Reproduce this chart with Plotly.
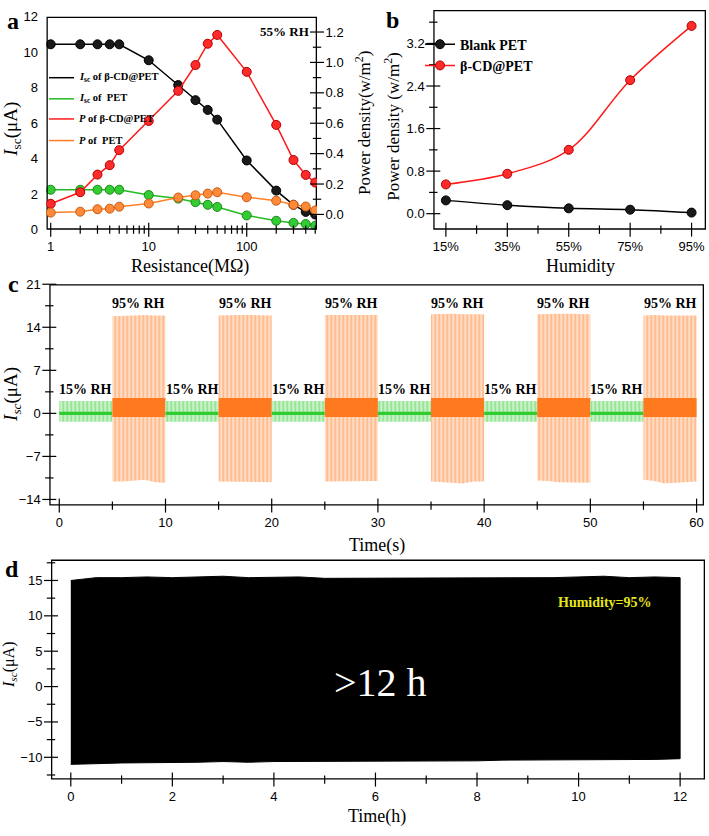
import plotly.graph_objects as go

# ---------------- Panel a data ----------------
resistance = [1, 2, 3, 4, 5, 10, 20, 30, 40, 50, 100, 200, 300, 400, 500]
isc_bcd = [10.45, 10.45, 10.45, 10.45, 10.45, 9.55, 8.15, 7.3, 6.75, 6.2, 3.9, 2.2, 1.4, 1.0, 0.85]
isc_pet = [2.25, 2.25, 2.25, 2.25, 2.25, 1.95, 1.75, 1.55, 1.4, 1.28, 0.8, 0.5, 0.38, 0.32, 0.22]
p_bcd = [0.07, 0.146, 0.262, 0.324, 0.423, 0.615, 0.813, 0.983, 1.123, 1.181, 0.938, 0.589, 0.358, 0.26, 0.21]
p_pet = [0.012, 0.018, 0.034, 0.038, 0.051, 0.072, 0.111, 0.126, 0.137, 0.146, 0.113, 0.09, 0.064, 0.052, 0.026]
a_legend_labels = ["<i>I</i><sub>sc</sub> of β-CD@PET", "<i>I</i><sub>sc</sub> of  PET",
                   "<i>P</i> of β-CD@PET", "<i>P</i> of  PET"]
a_x_major = [1, 10, 100]
a_x_minor = [2, 3, 4, 5, 6, 7, 8, 9, 20, 30, 40, 50, 60, 70, 80, 90, 200, 300, 400, 500]
a_y_major = [0, 2, 4, 6, 8, 10, 12]
a_y_minor = [1, 3, 5, 7, 9, 11]
a_y2_major = [0, 0.2, 0.4, 0.6, 0.8, 1.0, 1.2]
a_y2_minor = [0.1, 0.3, 0.5, 0.7, 0.9, 1.1]

# ---------------- Panel b data ----------------
humidity = [15, 35, 55, 75, 95]
humidity_labels = ["15%", "35%", "55%", "75%", "95%"]
p_blank_h = [0.25, 0.16, 0.10, 0.075, 0.02]
p_bcd_h = [0.55, 0.75, 1.2, 2.51, 3.53]
b_x_minor = [25, 45, 65, 85]
b_y_major = [0, 0.8, 1.6, 2.4, 3.2]
b_y_minor = [0.4, 1.2, 2.0, 2.8, 3.6]

# ---------------- Panel c data ----------------
c_seg_start = [0, 5, 10, 15, 20, 25, 30, 35, 40, 45, 50, 55]
c_seg_label = ["15% RH", "95% RH"] * 6
c_offsets = [0, 1, 2, 3, 4, 5]
c_top = [
    [2.0, 2.05, 2.0, 2.0, 2.05, 2.0],
    [15.8, 15.9, 15.9, 16.0, 15.9, 15.9],
    [2.0, 2.0, 2.05, 2.05, 2.0, 2.0],
    [15.9, 16.0, 16.0, 16.0, 16.0, 15.9],
    [2.0, 2.05, 2.05, 2.0, 2.0, 2.0],
    [16.0, 16.0, 16.1, 16.1, 16.0, 16.0],
    [2.0, 2.0, 2.0, 2.05, 2.0, 2.0],
    [16.1, 16.2, 16.2, 16.1, 16.1, 16.1],
    [2.0, 2.0, 2.0, 2.0, 2.05, 2.0],
    [16.1, 16.2, 16.2, 16.2, 16.2, 16.1],
    [2.0, 2.05, 2.0, 2.0, 2.0, 2.0],
    [15.9, 16.0, 15.9, 15.9, 15.9, 15.9],
]
c_bottom = [
    [-1.35, -1.35, -1.3, -1.35, -1.35, -1.35],
    [-11.1, -11.1, -11.0, -10.8, -11.2, -11.3],
    [-1.35, -1.3, -1.35, -1.35, -1.3, -1.35],
    [-11.1, -11.1, -11.2, -11.1, -11.2, -11.2],
    [-1.35, -1.35, -1.35, -1.3, -1.35, -1.35],
    [-11.1, -11.0, -11.0, -11.1, -11.0, -11.0],
    [-1.35, -1.35, -1.3, -1.35, -1.35, -1.35],
    [-11.1, -11.1, -11.3, -11.4, -11.1, -11.1],
    [-1.35, -1.3, -1.35, -1.35, -1.35, -1.35],
    [-10.9, -11.0, -11.2, -11.3, -11.3, -11.3],
    [-1.35, -1.35, -1.35, -1.3, -1.35, -1.35],
    [-10.8, -11.0, -11.4, -11.3, -11.2, -11.1],
]
c_core_high = [0.25, 2.5] * 6
c_core_low = [-0.25, -0.6] * 6
c_x_major = [0, 10, 20, 30, 40, 50, 60]
c_x_minor = [5, 15, 25, 35, 45, 55]
c_y_major = [-14, -7, 0, 7, 14, 21]
c_y_minor = [-10.5, -3.5, 3.5, 10.5, 17.5]

# ---------------- Panel d data ----------------
d_time = [0, 0.5, 1, 1.5, 2, 2.5, 3, 3.5, 4, 4.5, 5, 5.5, 6, 6.5, 7, 7.5, 8, 8.5, 9, 9.5,
          10, 10.5, 11, 11.5, 12]
d_top = [15.0, 15.4, 15.4, 15.5, 15.4, 15.5, 15.6, 15.4, 15.4, 15.5, 15.3, 15.3, 15.4,
         15.3, 15.3, 15.4, 15.3, 15.3, 15.4, 15.4, 15.5, 15.6, 15.4, 15.5, 15.4]
d_bottom = [-11.0, -10.9, -10.8, -10.8, -10.7, -10.7, -10.6, -10.7, -10.6, -10.6, -10.6,
            -10.5, -10.6, -10.5, -10.5, -10.5, -10.5, -10.4, -10.4, -10.4, -10.3, -10.3,
            -10.3, -10.3, -10.2]
d_x_major = [0, 2, 4, 6, 8, 10, 12]
d_x_minor = [1, 3, 5, 7, 9, 11]
d_y_major = [-10, -5, 0, 5, 10, 15]
d_y_minor = [-12.5, -7.5, -2.5, 2.5, 7.5, 12.5, 17.5]

# axis ranges
A_XR_LOG = [-0.043, 2.717]
A_YR = [0, 12]
A_Y2R = [-0.1, 1.3]
B_XR = [10.9, 99.7]
B_YR = [-0.3, 3.83]
C_XR = [-0.94, 60.7]
C_YR = [-15, 21]
D_XR = [-0.39, 12.49]
D_YR = [-13.15, 17.95]

W, H = 709, 836
SERIF = "Liberation Serif"
SANS = "Liberation Sans"
BLACK, GREEN, RED, ORANGE = "#000000", "#22bb22", "#ff1a1a", "#ff7f27"
C_ORANGE, C_GREEN = "#ff7a1e", "#2ecc2e"

FRAME_A = (46.5, 317, 10, 226.7)
FRAME_B = (433.3, 706, 3, 226.7)
FRAME_C = (49.3, 704, 282.3, 507.7)
FRAME_D = (51, 705, 562.7, 786.7)


def px(x):
    return x / W


def py(y):
    return 1 - y / H


fig = go.Figure()


def marker(c, edge):
    return dict(size=9, color=c, line=dict(color=edge, width=1))


# ---- panel a ----
fig.add_trace(go.Scatter(x=resistance, y=isc_bcd, mode="lines+markers", line=dict(color=BLACK, width=1.5),
                         marker=marker("#1a1a1a", "#000000"), xaxis="x", yaxis="y", showlegend=False))
fig.add_trace(go.Scatter(x=resistance, y=isc_pet, mode="lines+markers", line=dict(color=GREEN, width=1.5),
                         marker=marker("#33cc33", "#1a8a1a"), xaxis="x", yaxis="y", showlegend=False))
fig.add_trace(go.Scatter(x=resistance, y=p_bcd, mode="lines+markers", line=dict(color=RED, width=1.5),
                         marker=marker("#ff2a2a", "#b00000"), xaxis="x", yaxis="y2", showlegend=False))
fig.add_trace(go.Scatter(x=resistance, y=p_pet, mode="lines+markers", line=dict(color=ORANGE, width=1.5),
                         marker=marker("#ff8a3a", "#c85a10"), xaxis="x", yaxis="y2", showlegend=False))

# ---- panel b ----
fig.add_trace(go.Scatter(x=humidity, y=p_blank_h, mode="lines+markers", name="Blank PET",
                         line=dict(color=BLACK, width=1.5, shape="spline"),
                         marker=marker("#1a1a1a", "#000000"), xaxis="x2", yaxis="y3", legend="legend2"))
fig.add_trace(go.Scatter(x=humidity, y=p_bcd_h, mode="lines+markers", name="β-CD@PET",
                         line=dict(color=RED, width=1.5, shape="spline", smoothing=1.0),
                         marker=marker("#ff2a2a", "#b00000"), xaxis="x2", yaxis="y3", legend="legend2"))

# ---- panel c ----
for i, t0 in enumerate(c_seg_start):
    xs = [t0 + o for o in c_offsets]
    col = C_GREEN if c_seg_label[i].startswith("15") else C_ORANGE
    fig.add_trace(go.Scatter(
        x=xs + xs[::-1], y=c_top[i] + c_bottom[i][::-1], mode="lines", fill="toself",
        line=dict(width=0, color=col), fillcolor="white",
        fillpattern=dict(shape="|", size=4, solidity=0.75, fgcolor=col, bgcolor="white"),
        xaxis="x3", yaxis="y4", showlegend=False, hoverinfo="skip"))
    fig.add_trace(go.Scatter(
        x=[xs[0], xs[-1], xs[-1], xs[0]], y=[c_core_high[i], c_core_high[i], c_core_low[i], c_core_low[i]],
        mode="lines", fill="toself", line=dict(width=0, color=col), fillcolor=col,
        xaxis="x3", yaxis="y4", showlegend=False, hoverinfo="skip"))

# ---- panel d ----
fig.add_trace(go.Scatter(x=d_time + d_time[::-1], y=d_top + d_bottom[::-1], mode="lines", fill="toself",
                         line=dict(width=1, color="black"), fillcolor="black",
                         xaxis="x4", yaxis="y5", showlegend=False, hoverinfo="skip"))


# ---- frames and tick marks drawn as traces on each subplot ----
def frame(xa, ya, xr, yr):
    fig.add_trace(go.Scatter(x=[xr[0], xr[1], xr[1], xr[0], xr[0]], y=[yr[0], yr[0], yr[1], yr[1], yr[0]],
                             mode="lines", line=dict(color="black", width=2.6), cliponaxis=False,
                             xaxis=xa, yaxis=ya, showlegend=False, hoverinfo="skip"))


def tickmarks(xa, ya, xs, ys, symbol, size):
    fig.add_trace(go.Scatter(x=xs, y=ys, mode="markers", cliponaxis=False,
                             marker=dict(symbol=symbol, size=size, color="black",
                                         line=dict(color="black", width=1.2)),
                             xaxis=xa, yaxis=ya, showlegend=False, hoverinfo="skip"))


def axis_ticks(xa, ya, xr, yr, xmaj, xmin, ymaj, ymin):
    tickmarks(xa, ya, xmaj, [yr[0]] * len(xmaj), "line-ns", 10)
    tickmarks(xa, ya, xmin, [yr[0]] * len(xmin), "line-ns", 6)
    tickmarks(xa, ya, [xr[0]] * len(ymaj), ymaj, "line-ew", 10)
    tickmarks(xa, ya, [xr[0]] * len(ymin), ymin, "line-ew", 6)


a_xr = [10 ** A_XR_LOG[0], 10 ** A_XR_LOG[1]]
frame("x", "y", a_xr, A_YR)
axis_ticks("x", "y", a_xr, A_YR, a_x_major, a_x_minor, a_y_major, a_y_minor)
tickmarks("x", "y2", [a_xr[1]] * len(a_y2_major), a_y2_major, "line-ew", 10)
tickmarks("x", "y2", [a_xr[1]] * len(a_y2_minor), a_y2_minor, "line-ew", 6)
frame("x2", "y3", B_XR, B_YR)
axis_ticks("x2", "y3", B_XR, B_YR, humidity, b_x_minor, b_y_major, b_y_minor)
frame("x3", "y4", C_XR, C_YR)
axis_ticks("x3", "y4", C_XR, C_YR, c_x_major, c_x_minor, c_y_major, c_y_minor)
frame("x4", "y5", D_XR, D_YR)
axis_ticks("x4", "y5", D_XR, D_YR, d_x_major, d_x_minor, d_y_major, d_y_minor)


def ax(**kw):
    base = dict(showline=False, ticks="outside", ticklen=5, tickwidth=1, tickcolor="rgba(0,0,0,0)",
                showgrid=False, zeroline=False, tickfont=dict(family=SANS, size=13, color="black"))
    base.update(kw)
    return base


fig.update_layout(
    xaxis=ax(type="log", domain=[px(FRAME_A[0]), px(FRAME_A[1])], range=A_XR_LOG, anchor="y",
             tickvals=a_x_major, ticktext=[str(v) for v in a_x_major]),
    yaxis=ax(domain=[py(FRAME_A[3]), py(FRAME_A[2])], range=A_YR, anchor="x", tickvals=a_y_major),
    yaxis2=ax(overlaying="y", side="right", anchor="x", range=A_Y2R, tickvals=a_y2_major, tickformat=".1f"),
    xaxis2=ax(domain=[px(FRAME_B[0]), px(FRAME_B[1])], range=B_XR, anchor="y3",
              tickvals=humidity, ticktext=humidity_labels),
    yaxis3=ax(domain=[py(FRAME_B[3]), py(FRAME_B[2])], range=B_YR, anchor="x2",
              tickvals=b_y_major, tickformat=".1f"),
    xaxis3=ax(domain=[px(FRAME_C[0]), px(FRAME_C[1])], range=C_XR, anchor="y4", tickvals=c_x_major),
    yaxis4=ax(domain=[py(FRAME_C[3]), py(FRAME_C[2])], range=C_YR, anchor="x3", tickvals=c_y_major),
    xaxis4=ax(domain=[px(FRAME_D[0]), px(FRAME_D[1])], range=D_XR, anchor="y5", tickvals=d_x_major),
    yaxis5=ax(domain=[py(FRAME_D[3]), py(FRAME_D[2])], range=D_YR, anchor="x4", tickvals=d_y_major),
    width=W, height=H, margin=dict(l=0, r=0, t=0, b=0),
    paper_bgcolor="white", plot_bgcolor="white",
    legend2=dict(x=px(420), y=py(22), xanchor="left", yanchor="top", bgcolor="rgba(0,0,0,0)",
                 font=dict(family=SERIF, size=14, color="black", weight="bold"),
                 itemwidth=30, tracegroupgap=0),
)

shapes = []
ann = []


def add_text(text, x, y, size, bold=False, color="black", family=SERIF, angle=0, xanchor="center",
             yanchor="middle", xref="paper", yref="paper"):
    t = f"<b>{text}</b>" if bold else text
    ann.append(dict(text=t, x=x, y=y, xref=xref, yref=yref, showarrow=False, textangle=angle,
                    font=dict(family=family, size=size, color=color), xanchor=xanchor, yanchor=yanchor))


add_text("a", px(13), py(14), 24, bold=True)
add_text("b", px(392), py(13), 24, bold=True)
add_text("c", px(13), py(282), 24, bold=True)
add_text("d", px(12), py(572), 24, bold=True)
add_text("Resistance(MΩ)", px(190), py(264), 18)
add_text("Humidity", px(580), py(264), 18)
add_text("Time(s)", px(377), py(548), 18)
add_text("Time(h)", px(377), py(824), 18)
add_text("<i>I</i><sub>sc</sub>(μA)", px(12), py(125), 19, angle=-90)
add_text("Power density(w/m<sup>2</sup>)", px(363), py(118), 17, angle=-90)
add_text("Power density (w/m<sup>2</sup>)", px(392), py(122), 17, angle=-90)
add_text("<i>I</i><sub><i>sc</i></sub>(μA)", px(12), py(395), 19, angle=-90)
add_text("<i>I</i><sub><i>sc</i></sub>(μA)", px(10), py(670), 16, angle=-90)
add_text("55% RH", px(284), py(25), 13, bold=True)

a_leg_colors = [BLACK, GREEN, RED, ORANGE]
a_leg_rows = [72, 93.5, 114, 136]
for lbl, col, row in zip(a_legend_labels, a_leg_colors, a_leg_rows):
    shapes.append(dict(type="line", xref="paper", yref="paper", x0=px(49), x1=px(74), y0=py(row), y1=py(row),
                       line=dict(color=col, width=1.5)))
    add_text(lbl, px(77), py(row), 10.5, bold=True, xanchor="left")

for i, t0 in enumerate(c_seg_start):
    is_low = c_seg_label[i].startswith("15")
    add_text(c_seg_label[i], t0 + 2.5, 2.4 if is_low else 16.4, 14, bold=True,
             xref="x3", yref="y4", yanchor="bottom")

add_text("Humidity=95%", 10.52, 11.85, 14, bold=True, color="#e6e61e", xref="x4", yref="y5")
add_text("&gt;12 h", 6.1, 0.6, 40, color="white", xref="x4", yref="y5")

fig.update_layout(annotations=ann, shapes=shapes)

fig.write_html("out.html",
               post_script="document.body.style.margin='0';document.body.style.overflow='hidden';",
               config={"displayModeBar": False})
